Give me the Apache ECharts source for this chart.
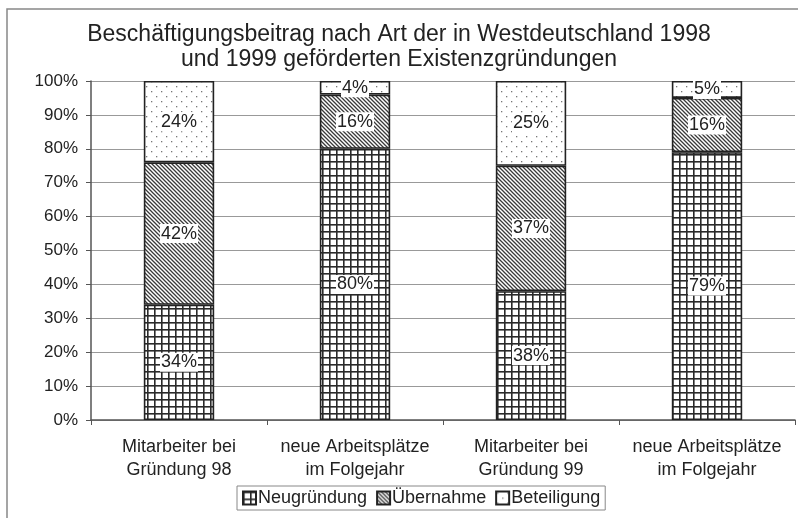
<!DOCTYPE html>
<html>
<head>
<meta charset="utf-8">
<script src="https://cdn.jsdelivr.net/npm/echarts@6/dist/echarts.min.js"></script>
<style>
  html, body { margin: 0; padding: 0; background: #fff; }
  #chart { width: 798px; height: 518px; }
</style>
</head>
<body>
<div id="chart"></div>
<script>
// Kategorien und Werte (Anteile in %)
var categories = ['Mitarbeiter bei\nGründung 98', 'neue Arbeitsplätze\nim Folgejahr', 'Mitarbeiter bei\nGründung 99', 'neue Arbeitsplätze\nim Folgejahr'];
var neugruendung = [34, 80, 38, 79];
var uebernahme = [42, 16, 37, 16];
var beteiligung = [24, 4, 25, 5];
var yTicks = [0, 10, 20, 30, 40, 50, 60, 70, 80, 90, 100];

// Schraffur-Muster
function makePattern(size, draw) {
    var c = document.createElement('canvas');
    c.width = size;
    c.height = size;
    var ctx = c.getContext('2d');
    ctx.fillStyle = '#fff';
    ctx.fillRect(0, 0, size, size);
    draw(ctx, size);
    return { image: c, repeat: 'repeat' };
}
var gridPattern = makePattern(7, function (ctx, s) {
    ctx.fillStyle = '#2a2a2a';
    ctx.fillRect(0, 0, s, 1.6);
    ctx.fillRect(0, 0, 1.6, s);
});
var hatchPattern = makePattern(4, function (ctx, s) {
    ctx.strokeStyle = '#3a3a3a';
    ctx.lineWidth = 1.3;
    ctx.beginPath();
    ctx.moveTo(-1, -1); ctx.lineTo(s + 1, s + 1);
    ctx.moveTo(-1, s - 1); ctx.lineTo(1, s + 1);
    ctx.moveTo(s - 1, -1); ctx.lineTo(s + 1, 1);
    ctx.stroke();
});
var dotPattern = makePattern(10, function (ctx, s) {
    ctx.fillStyle = '#777';
    ctx.fillRect(1, 1, 1.3, 1.3);
    ctx.fillRect(6, 6, 1.3, 1.3);
});

var labelStyle = {
    show: true,
    position: 'inside',
    formatter: '{c}%',
    fontFamily: 'Liberation Sans',
    fontSize: 18,
    color: '#222',
    backgroundColor: '#fff',
    padding: [1, 1, 0, 1]
};

function barSeries(name, data, pattern) {
    return {
        name: name,
        type: 'bar',
        stack: 'total',
        barCategoryGap: '60%',
        data: data,
        itemStyle: { color: pattern, borderColor: '#222', borderWidth: 1.6 },
        label: labelStyle
    };
}

var myChart = echarts.init(document.getElementById('chart'));
var option = {
    animation: false,
    title: {
        text: 'Beschäftigungsbeitrag nach Art der in Westdeutschland 1998\nund 1999 geförderten Existenzgründungen',
        left: 'center',
        top: 17,
        textStyle: { fontFamily: 'Liberation Sans', fontSize: 23, fontWeight: 'normal', color: '#222', lineHeight: 25 }
    },
    graphic: [{
        type: 'rect',
        shape: { x: 7, y: 9, width: 800, height: 520 },
        style: { fill: null, stroke: '#888', lineWidth: 1.5 },
        silent: true
    }],
    legend: {
        bottom: 8,
        left: 237,
        itemWidth: 13,
        itemHeight: 13,
        itemGap: 9,
        padding: [3, 5],
        borderColor: '#888',
        borderWidth: 1,
        icon: 'rect',
        textStyle: { fontFamily: 'Liberation Sans', fontSize: 18, color: '#222', padding: [0, 0, 0, -3] },
        data: ['Neugründung', 'Übernahme', 'Beteiligung']
    },
    grid: { left: 91, right: 3, top: 81, bottom: 98 },
    xAxis: {
        type: 'category',
        data: categories,
        axisLine: { lineStyle: { color: '#555', width: 1.5 } },
        axisTick: { show: true, length: 5, lineStyle: { color: '#555' } },
        axisLabel: { interval: 0, fontFamily: 'Liberation Sans', fontSize: 18, color: '#222', lineHeight: 23, margin: 16 }
    },
    yAxis: {
        type: 'value',
        min: 0,
        max: 100,
        interval: 10,
        axisLine: { show: true, lineStyle: { color: '#555', width: 1.5 } },
        axisTick: { show: true, length: 5, lineStyle: { color: '#555' } },
        splitLine: { lineStyle: { color: '#999', width: 1 } },
        axisLabel: {
            fontFamily: 'Liberation Sans', fontSize: 17, color: '#222', margin: 13,
            formatter: function (v) { return yTicks.indexOf(v) >= 0 ? v + '%' : ''; }
        }
    },
    series: [
        barSeries('Neugründung', neugruendung, gridPattern),
        barSeries('Übernahme', uebernahme, hatchPattern),
        barSeries('Beteiligung', beteiligung, dotPattern)
    ]
};
myChart.setOption(option);
</script>
</body>
</html>
